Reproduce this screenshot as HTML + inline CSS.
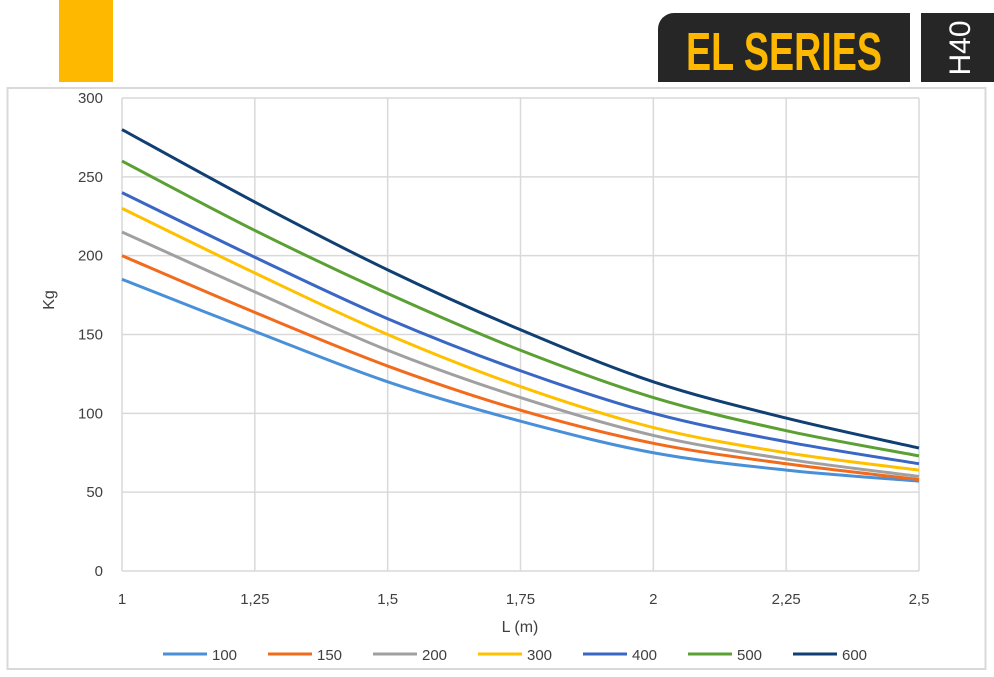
<!DOCTYPE html>
<html><head><meta charset="utf-8"><style>
body{margin:0;width:994px;height:672px;background:#fff;overflow:hidden;font-family:"Liberation Sans",sans-serif;}
</style></head><body>
<svg width="994" height="672" xmlns="http://www.w3.org/2000/svg">
<rect x="59" y="0" width="54" height="82" fill="#FFB800"/>
<rect x="658" y="13" width="252" height="69" rx="16" fill="#262626"/>
<rect x="658" y="50" width="30" height="32" fill="#262626"/>
<rect x="880" y="13" width="30" height="69" fill="#262626"/>
<text x="784" y="70" text-anchor="middle" fill="#FFB800" font-size="54" font-weight="bold" font-family="Liberation Sans Narrow, Liberation Sans, sans-serif" textLength="196" lengthAdjust="spacingAndGlyphs">EL SERIES</text>
<rect x="921" y="13" width="73" height="69" fill="#262626"/>
<text transform="translate(970,48) rotate(-90)" text-anchor="middle" fill="#fff" font-size="30">H40</text>
<rect x="7.5" y="88" width="978" height="581" fill="none" stroke="#d9d9d9" stroke-width="2"/>
<g id="grid"></g><g id="axes" font-size="15" fill="#404040"></g><g id="lines"></g><g id="legend" font-size="15" fill="#404040"></g>
<text x="520" y="632" text-anchor="middle" font-size="16" fill="#404040">L (m)</text>
<text transform="translate(54,300) rotate(-90)" text-anchor="middle" font-size="16" fill="#404040">Kg</text>
</svg>
<script>
const xCats=[1,1.25,1.5,1.75,2,2.25,2.5];
const xLabels=["1","1,25","1,5","1,75","2","2,25","2,5"];
const yTicks=[0,50,100,150,200,250,300];
const seriesNames=["100","150","200","300","400","500","600"];
const s100=[185,152,120,95,75,64,57];
const s150=[200,164,130,102,81,68,58];
const s200=[215,177,140,110,86,71,60];
const s300=[230,189,150,117,91,75,64];
const s400=[240,199,160,127,100,82,68];
const s500=[260,216,176,140,110,89,73];
const s600=[280,234,191,153,120,97,78];
const seriesData=[s100,s150,s200,s300,s400,s500,s600];
const colors=["#4A90D9","#F26A1B","#A0A0A0","#FFC000","#3A66C4","#5BA033","#0F3F73"];
const X0=122,X1=919,Y0=571,Y1=98;
const xs=v=>X0+(v-1)/(1.5)*(X1-X0);
const ys=v=>Y0-v/300*(Y0-Y1);
const NS="http://www.w3.org/2000/svg";
function mk(t,a,p){const e=document.createElementNS(NS,t);for(const k in a)e.setAttribute(k,a[k]);p.appendChild(e);return e;}
const grid=document.getElementById('grid'),axes=document.getElementById('axes'),lines=document.getElementById('lines'),legend=document.getElementById('legend');
yTicks.forEach(t=>{const l=mk('line',{x1:X0,x2:X1,y1:ys(t),y2:ys(t),stroke:'#d9d9d9','stroke-width':1.5},grid);


const tx=mk('text',{x:103,y:ys(t)+5,'text-anchor':'end'},axes);tx.textContent=t;

});
xCats.forEach((c,i)=>{const l=mk('line',{x1:xs(c),x2:xs(c),y1:Y1,y2:Y0,stroke:'#d9d9d9','stroke-width':1.5},grid);


const tx=mk('text',{x:xs(c),y:604,'text-anchor':'middle'},axes);tx.textContent=xLabels[i];

});
function smooth(pts){let d=`M${pts[0][0]},${pts[0][1]}`;for(let i=0;i<pts.length-1;i++){const p0=pts[i-1]||pts[i],p1=pts[i],p2=pts[i+1],p3=pts[i+2]||p2;
const c1=[p1[0]+(p2[0]-p0[0])/6,p1[1]+(p2[1]-p0[1])/6],c2=[p2[0]-(p3[0]-p1[0])/6,p2[1]-(p3[1]-p1[1])/6];
d+=` C${c1[0]},${c1[1]} ${c2[0]},${c2[1]} ${p2[0]},${p2[1]}`;}return d;}
seriesData.forEach((s,k)=>{const pts=s.map((v,i)=>[xs(xCats[i]),ys(v)]);
const p=mk('path',{d:smooth(pts),fill:'none',stroke:colors[k],'stroke-width':3},lines);


const lx=163+k*105;
const g=mk('g',{},legend);


mk('line',{x1:lx,x2:lx+44,y1:654,y2:654,stroke:colors[k],'stroke-width':3},g);
const t=mk('text',{x:lx+49,y:660},g);t.textContent=seriesNames[k];});
</script>
</body></html>
